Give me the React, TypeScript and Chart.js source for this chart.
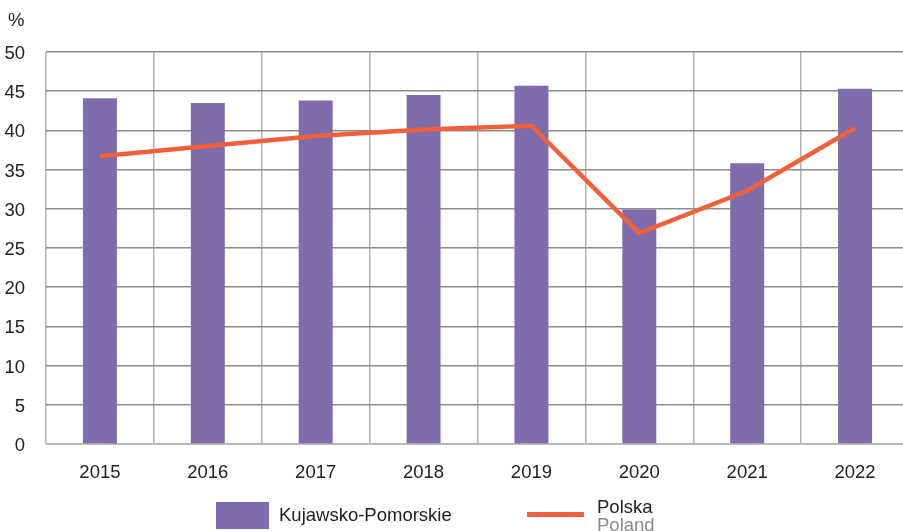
import React, { useEffect, useRef } from "react";
import { Chart, registerables } from "chart.js";

Chart.register(...registerables);

const categories = ["2015", "2016", "2017", "2018", "2019", "2020", "2021", "2022"];
const regionValues = [44.1, 43.5, 43.8, 44.5, 45.7, 29.9, 35.8, 45.3];
const polandValues = [36.7, 38.0, 39.3, 40.1, 40.6, 26.9, 32.3, 40.3];
const yTicks = [0, 5, 10, 15, 20, 25, 30, 35, 40, 45, 50];

const regionLabel = "Kujawsko-Pomorskie";
const polandLabel = "Polska";
const polandLabelEn = "Poland";

const BAR = "#7f6cab";
const LINE = "#f1603c";
const FONT = "'Liberation Sans', Arial, sans-serif";

export default function App() {
  const ref = useRef<HTMLCanvasElement | null>(null);

  useEffect(() => {
    if (!ref.current) return;
    const chart = new Chart(ref.current, {
      type: "bar",
      data: {
        labels: categories,
        datasets: [
          {
            type: "line",
            label: polandLabel,
            data: polandValues,
            borderColor: LINE,
            backgroundColor: LINE,
            borderWidth: 4.5,
            pointRadius: 0,
            tension: 0,
            order: 0,
          } as any,
          {
            type: "bar",
            label: regionLabel,
            data: regionValues,
            backgroundColor: BAR,
            barPercentage: 0.315,
            categoryPercentage: 1,
            order: 1,
          },
        ],
      },
      options: {
        responsive: false,
        animation: false,
        layout: { padding: { top: 52, left: 0, right: 1, bottom: 0 } },
        plugins: { legend: { display: false }, tooltip: { enabled: false } },
        scales: {
          x: {
            offset: true,
            grid: { offset: true, color: "#b3b3b3", lineWidth: 1.5, drawTicks: false },
            border: { color: "#b3b3b3", width: 1.5 },
            ticks: { color: "#222", font: { family: FONT, size: 18.5 }, padding: 18 },
            afterFit: (s: any) => { s.height = 87; },
          },
          y: {
            min: 0,
            max: 50,
            afterBuildTicks: (s: any) => { s.ticks = yTicks.map((v) => ({ value: v })); },
            grid: { color: "#8c8c8c", lineWidth: 1.5, drawTicks: false },
            border: { display: false },
            ticks: { color: "#222", font: { family: FONT, size: 18.5 }, padding: 21, labelOffset: 2 },
            afterFit: (s: any) => { s.width = 46; },
          },
        },
      },
    });
    return () => chart.destroy();
  }, []);

  return (
    <div style={{ position: "absolute", left: 0, top: 0, width: 903, height: 531, overflow: "hidden", background: "#fff", fontFamily: FONT }}>
      <canvas ref={ref} width={910} height={531} style={{ display: "block", width: 910, height: 531 }} />
      <div style={{ position: "absolute", left: 8, top: 9, fontSize: 18.5, color: "#222" }}>%</div>
      <div style={{ position: "absolute", left: 216, top: 502, width: 53, height: 27, background: BAR }} />
      <div style={{ position: "absolute", left: 279, top: 504, fontSize: 18.5, color: "#222", lineHeight: "21px" }}>{regionLabel}</div>
      <div style={{ position: "absolute", left: 527, top: 512, width: 57, height: 5, background: LINE }} />
      <div style={{ position: "absolute", left: 597, top: 498, fontSize: 18.5, color: "#222", lineHeight: "18px" }}>{polandLabel}</div>
      <div style={{ position: "absolute", left: 597, top: 516, fontSize: 18.5, color: "#8a8a8a", lineHeight: "18px" }}>{polandLabelEn}</div>
    </div>
  );
}
